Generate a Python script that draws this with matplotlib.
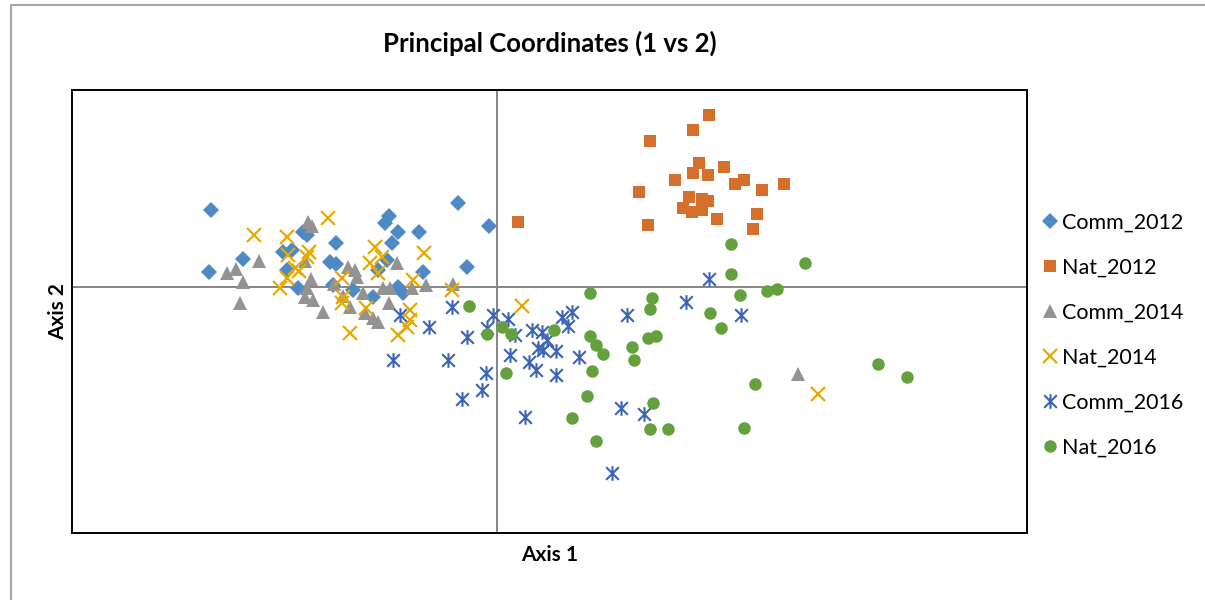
import matplotlib
matplotlib.use("Agg")
from matplotlib import pyplot as plt
from matplotlib.lines import Line2D
from matplotlib.path import Path

# PCoA scores, axis 1 / axis 2
comm_2012_x = [-0.286, -0.288, -0.254, -0.214, -0.205, -0.194, -0.190, -0.210, -0.199, -0.167,
               -0.161, -0.161, -0.164, -0.144, -0.108, -0.112, -0.099, -0.078, -0.105, -0.110,
               -0.119, -0.074, -0.124, -0.099, -0.094, -0.039, -0.008, -0.030]
comm_2012_y = [0.077, 0.015, 0.028, 0.035, 0.037, 0.055, 0.052, 0.017, -0.001, 0.025,
               0.023, 0.044, 0.002, -0.003, 0.071, 0.064, 0.055, 0.055, 0.044, 0.027,
               0.017, 0.015, -0.010, 0.000, -0.006, 0.084, 0.061, 0.020]

nat_2012_x = [0.021, 0.153, 0.196, 0.212, 0.142, 0.151, 0.178, 0.202, 0.196, 0.211, 0.227, 0.238,
              0.247, 0.265, 0.287, 0.192, 0.205, 0.211, 0.186, 0.195, 0.205, 0.220, 0.260, 0.256]
nat_2012_y = [0.065, 0.146, 0.157, 0.172, 0.095, 0.062, 0.107, 0.124, 0.114, 0.112, 0.120, 0.103,
              0.107, 0.097, 0.103, 0.090, 0.088, 0.086, 0.079, 0.075, 0.077, 0.068, 0.073, 0.058]

comm_2014_x = [-0.270, -0.261, -0.254, -0.238, -0.257, -0.189, -0.185, -0.192, -0.186, -0.190,
               -0.192, -0.184, -0.174, -0.149, -0.142, -0.140, -0.163, -0.154, -0.147, -0.134,
               -0.132, -0.124, -0.119, -0.114, -0.107, -0.108, -0.100, -0.085, -0.071, -0.044, 0.301]
comm_2014_y = [0.014, 0.018, 0.005, 0.026, -0.016, 0.065, 0.061, 0.026, 0.008, -0.001,
               -0.010, -0.013, -0.025, 0.020, 0.017, 0.010, 0.003, -0.009, -0.020, -0.006,
               -0.026, -0.031, -0.035, -0.001, -0.001, -0.016, 0.024, -0.001, 0.002, 0.003, -0.087]

nat_2014_x = [-0.243, -0.210, -0.209, -0.188, -0.190, -0.202, -0.198, -0.210, -0.217, -0.169,
              -0.155, -0.154, -0.155, -0.147, -0.122, -0.115, -0.127, -0.119, -0.131, -0.073,
              -0.084, -0.087, -0.087, -0.090, -0.099, -0.045, 0.025, 0.321]
nat_2014_y = [0.052, 0.050, 0.032, 0.035, 0.030, 0.019, 0.016, 0.009, -0.001, 0.069,
              0.009, -0.010, -0.016, -0.046, 0.040, 0.030, 0.024, 0.014, -0.021, 0.034,
              0.007, -0.023, -0.033, -0.040, -0.048, -0.003, -0.019, -0.107]

comm_2016_x = [-0.097, -0.068, -0.045, -0.030, -0.104, -0.049, -0.004, 0.011, -0.010, 0.018,
               0.013, -0.011, -0.015, -0.035, 0.028, 0.035, 0.045, 0.041, 0.046, 0.032,
               0.039, 0.065, 0.075, 0.071, 0.050, 0.059, 0.082, 0.059, 0.124, 0.147,
               0.115, 0.130, 0.189, 0.212, 0.244]
comm_2016_y = [-0.028, -0.040, -0.020, -0.050, -0.073, -0.073, -0.028, -0.032, -0.041, -0.048,
               -0.068, -0.086, -0.103, -0.112, -0.130, -0.043, -0.045, -0.061, -0.063, -0.075,
               -0.083, -0.030, -0.025, -0.039, -0.053, -0.064, -0.070, -0.088, -0.121, -0.127,
               -0.186, -0.028, -0.015, 0.008, -0.028]

nat_2016_x = [-0.028, -0.010, 0.005, 0.014, 0.009, 0.093, 0.155, 0.153, 0.057, 0.093,
              0.099, 0.106, 0.135, 0.137, 0.151, 0.159, 0.095, 0.090, 0.156, 0.075,
              0.153, 0.171, 0.099, 0.213, 0.234, 0.308, 0.234, 0.243, 0.270, 0.280,
              0.224, 0.381, 0.410, 0.258, 0.247]
nat_2016_y = [-0.019, -0.047, -0.040, -0.047, -0.086, -0.006, -0.011, -0.022, -0.043, -0.049,
              -0.058, -0.067, -0.060, -0.073, -0.051, -0.049, -0.084, -0.109, -0.116, -0.131,
              -0.142, -0.142, -0.154, -0.026, 0.043, 0.024, 0.013, -0.008, -0.004, -0.002,
              -0.041, -0.077, -0.090, -0.097, -0.141]

plt.rcParams['font.family'] = ['Lato', 'DejaVu Sans']

# Excel style "star": an X with a vertical bar through it
star = Path([(-1, -1), (1, 1), (-1, 1), (1, -1), (0, -1.15), (0, 1.15)],
            [Path.MOVETO, Path.LINETO, Path.MOVETO, Path.LINETO, Path.MOVETO, Path.LINETO])

fig = plt.figure(figsize=(12.05, 6), dpi=100)
ax = fig.add_axes([0.0598, 0.1117, 0.7925, 0.7383])

# zero lines first so the markers sit on top
ax.axhline(0, color="#868686", lw=1.4, zorder=1)
ax.axvline(0, color="#868686", lw=1.4, zorder=1)

ax.plot(comm_2012_x, comm_2012_y, ls="none", marker="D", ms=8, color="#4d89c4", mew=0, label="Comm_2012", zorder=3)
ax.plot(nat_2012_x, nat_2012_y, ls="none", marker="s", ms=9, color="#d4702c", mew=0, label="Nat_2012", zorder=3)
ax.plot(comm_2014_x, comm_2014_y, ls="none", marker="^", ms=10, color="#939393", mew=0, label="Comm_2014", zorder=3)
ax.plot(nat_2014_x, nat_2014_y, ls="none", marker="x", ms=9.5, color="#e8aa00", mew=1.6, label="Nat_2014", zorder=3)
ax.plot(comm_2016_x, comm_2016_y, ls="none", marker=star, ms=10.5, color="#3b63b6", mew=1.5, label="Comm_2016", zorder=3)
ax.plot(nat_2016_x, nat_2016_y, ls="none", marker="o", ms=9, color="#64a03c", mew=0, label="Nat_2016", zorder=3)

ax.set_xlim(-0.425, 0.530)
ax.set_ylim(-0.246, 0.197)
ax.set_xticks([])
ax.set_yticks([])
for s in ax.spines.values():
    s.set_linewidth(1.4)
    s.set_color("black")

ax.set_xlabel("Axis 1", fontsize=15, fontweight="bold", labelpad=9)
ax.set_ylabel("Axis 2", fontsize=15, fontweight="bold", labelpad=3)

fig.text(0.456, 0.927, "Principal Coordinates (1 vs 2)", ha="center", va="center", fontsize=18.5, fontweight="bold")

leg = ax.legend(loc="upper left", bbox_to_anchor=(1.008, 0.742), frameon=False, fontsize=15.5,
                labelspacing=1.16, handlelength=0.6, handletextpad=0.25, borderaxespad=0)

# outer chart border (top and left edges visible)
fig.add_artist(Line2D([10.5 / 1205, 1], [1 - 5 / 600, 1 - 5 / 600], color="#a6a6a6", lw=1.5))
fig.add_artist(Line2D([10.5 / 1205, 10.5 / 1205], [0, 1 - 5 / 600], color="#a6a6a6", lw=1.5))

fig.savefig("out.png", dpi=100)
